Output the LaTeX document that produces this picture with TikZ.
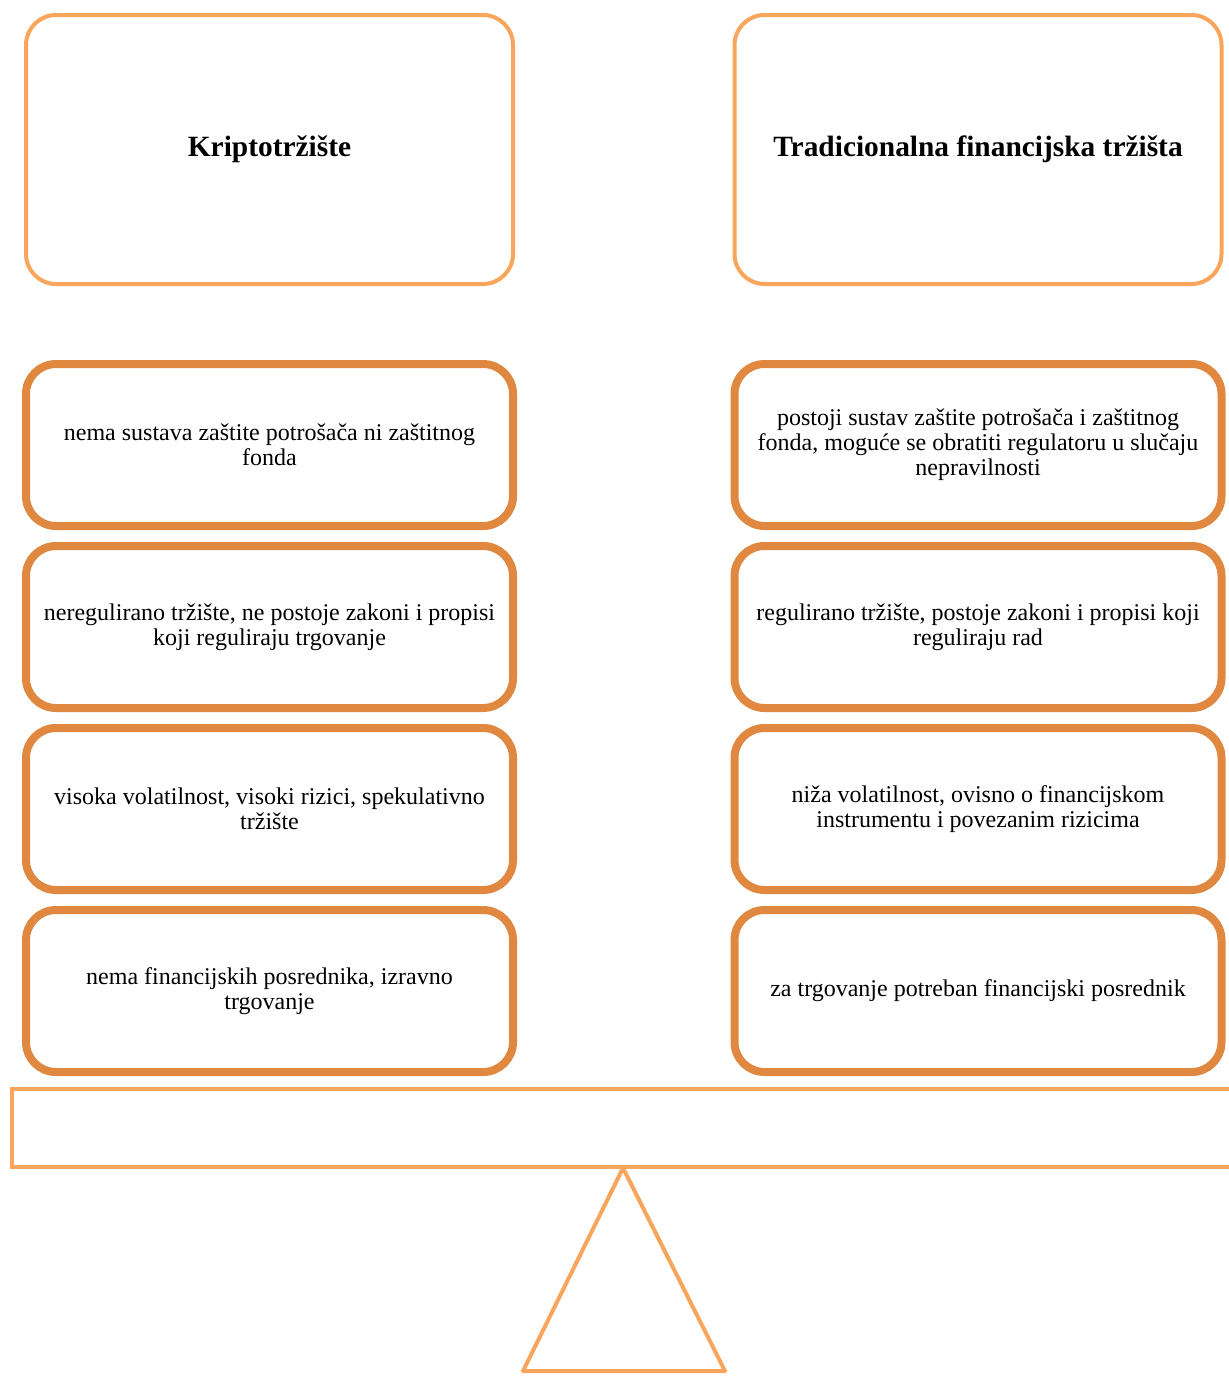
\documentclass[tikz,border=0pt]{standalone}
\usepackage{fontspec}
\setmainfont{Liberation Serif}
\usetikzlibrary{positioning,shadows}

\definecolor{lightorange}{HTML}{F9A55C}
\definecolor{darkorange}{HTML}{E0883F}

\tikzset{
  head/.style = {draw=lightorange, line width=2pt, rounded corners=15pt, minimum width=243.5pt, minimum height=134.5pt, outer sep=0pt, font=\fontsize{14.7}{17}\selectfont\bfseries},
  item/.style = {draw=darkorange, line width=4pt, rounded corners=15pt, fill=white, drop shadow={shadow xshift=1.2pt, shadow yshift=-1.5pt, opacity=0.4}, minimum width=243.5pt, minimum height=81pt, outer sep=0pt, align=center, font=\fontsize{12}{12.5}\selectfont},
  beam/.style = {draw=lightorange, line width=2pt, minimum width=614pt, minimum height=39pt, outer sep=0pt},
  prop/.style = {draw=lightorange, line width=2pt, line join=round}
}

\begin{document}
\begin{tikzpicture}[x=0.5pt, y=-0.5pt, node distance=10pt]
  \useasboundingbox (0,0) rectangle (1228,1376);

  % Headers
  \node[head] (krip) at (269.5,149.5) {Kriptotržište};
  \node[head] (trad) at (978,149.5) {Tradicionalna financijska tržišta};

  % Left column (crypto market)
  \node[item, below=40pt of krip] (k1) {nema sustava zaštite potrošača ni zaštitnog\\fonda};
  \node[item, below=of k1] (k2) {neregulirano tržište, ne postoje zakoni i propisi\\koji reguliraju trgovanje};
  \node[item, below=of k2] (k3) {visoka volatilnost, visoki rizici, spekulativno\\tržište};
  \node[item, below=of k3] (k4) {nema financijskih posrednika, izravno\\trgovanje};

  % Right column (traditional markets)
  \node[item, below=40pt of trad] (t1) {postoji sustav zaštite potrošača i zaštitnog\\fonda, moguće se obratiti regulatoru u slučaju\\nepravilnosti};
  \node[item, below=of t1] (t2) {regulirano tržište, postoje zakoni i propisi koji\\reguliraju rad};
  \node[item, below=of t2] (t3) {niža volatilnost, ovisno o financijskom\\instrumentu i povezanim rizicima};
  \node[item, below=of t3] (t4) {za trgovanje potreban financijski posrednik};

  % Scale beam and fulcrum
  \node[beam] (vaga) at (626,1128) {};
  \coordinate (vrh) at (623,1168);
  \draw[prop] (vrh) -- (725,1371) -- (523,1371) -- cycle;
\end{tikzpicture}
\end{document}
